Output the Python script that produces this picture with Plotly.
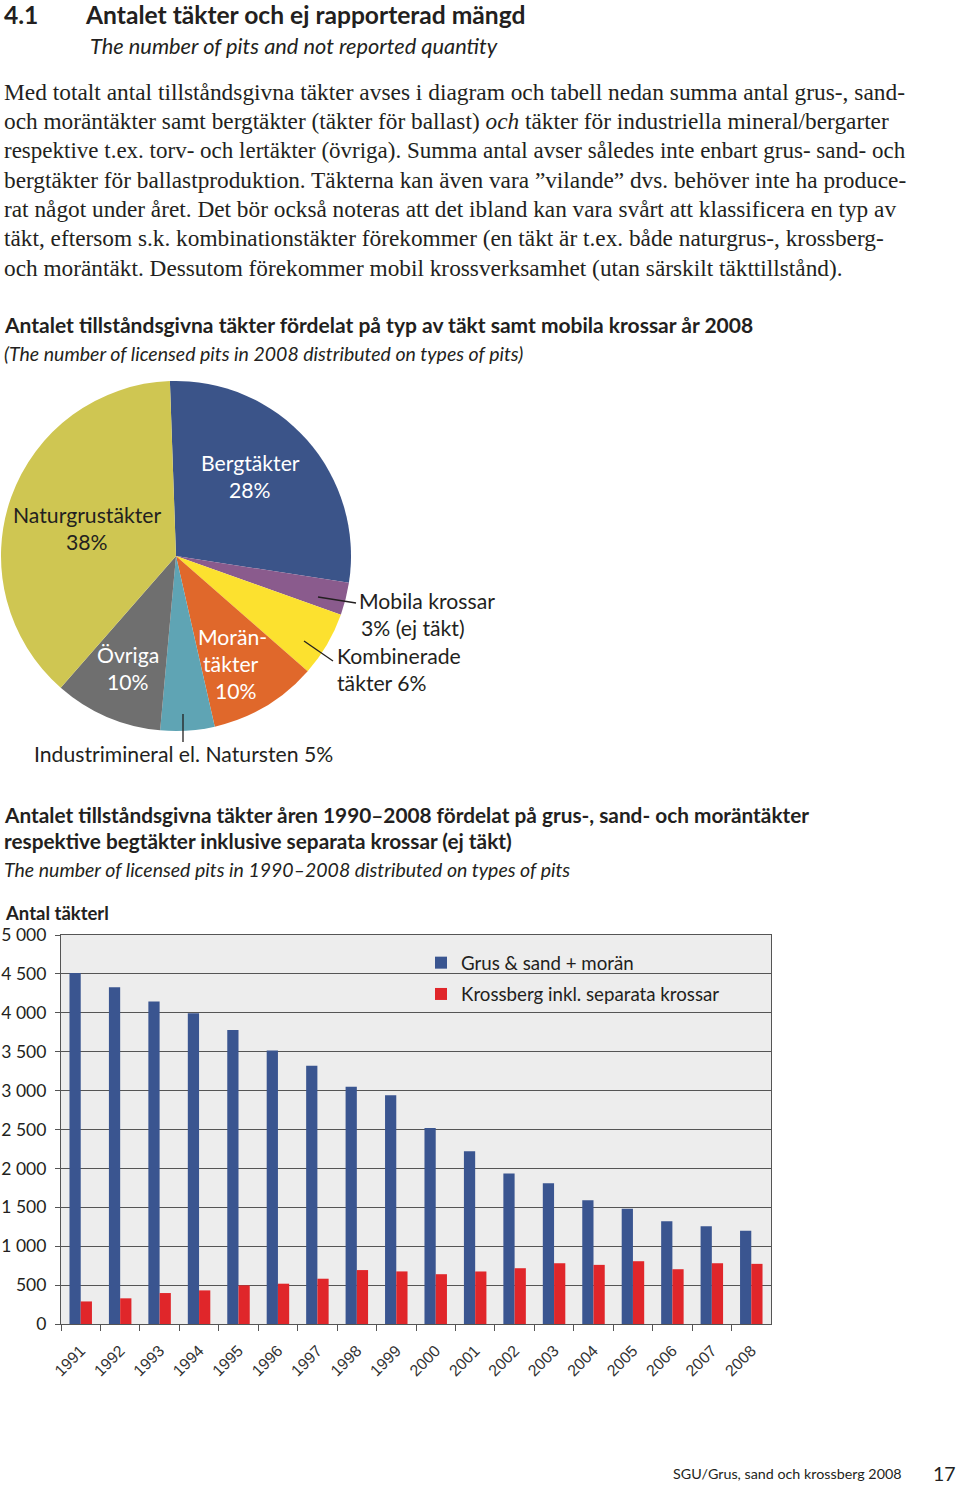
import plotly.graph_objects as go

W, H = 960, 1486

# ---------------- data ----------------
pie_labels = ["Bergtäkter", "Mobila krossar", "Kombinerade täkter", "Moräntäkter",
              "Industrimineral el. Natursten", "Övriga", "Naturgrustäkter"]
pie_values = [28, 3, 6, 10, 5, 10, 38]
pie_colors = ["#3B5489", "#8A5B8D", "#FCE12F", "#E0682B", "#5FA4B4", "#6F6F6F", "#CFC652"]

years = [str(y) for y in range(1991, 2009)]
grus = [4510, 4330, 4145, 3995, 3780, 3515, 3320, 3050, 2940, 2520,
        2220, 1935, 1810, 1590, 1480, 1320, 1255, 1200]
krossberg = [290, 330, 398, 432, 497, 518, 582, 693, 676, 640,
             675, 717, 781, 760, 807, 704, 781, 773]
y_tickvals = [0, 500, 1000, 1500, 2000, 2500, 3000, 3500, 4000, 4500, 5000]
y_ticktext = ["0", "500", "1 000", "1 500", "2 000", "2 500", "3 000",
              "3 500", "4 000", "4 500", "5 000"]


def px(x):
    return x / W


def py(y):
    return 1 - y / H


SANS = "Lato"
SERIF = "Liberation Serif"
DARK = "#231F20"

annotations = []


def txt(x, y, s, size, family=SANS, color=DARK, xanchor="left"):
    annotations.append(dict(
        x=px(x), y=py(y), xref="paper", yref="paper", text=s, showarrow=False,
        xanchor=xanchor, yanchor="middle", font=dict(size=size, family=family, color=color)))


# heading
txt(2, 14, "<b>4.1</b>", 24.6)
txt(83, 14, "<b>Antalet täkter och ej rapporterad mängd</b>", 24.6)
txt(88, 45, "<i>The number of pits and not reported quantity</i>", 21.8)

para = [
    "Med totalt antal tillståndsgivna täkter avses i diagram och tabell nedan summa antal grus-, sand-",
    "och moräntäkter samt bergtäkter (täkter för ballast) <i>och</i> täkter för industriella mineral/bergarter",
    "respektive t.ex. torv- och lertäkter (övriga). Summa antal avser således inte enbart grus- sand- och",
    "bergtäkter för ballastproduktion. Täkterna kan även vara ”vilande” dvs. behöver inte ha produce-",
    "rat något under året. Det bör också noteras att det ibland kan vara svårt att klassificera en typ av",
    "täkt, eftersom s.k. kombinationstäkter förekommer (en täkt är t.ex. både naturgrus-, krossberg-",
    "och moräntäkt. Dessutom förekommer mobil krossverksamhet (utan särskilt täkttillstånd).",
]
para_y = [92, 121, 151, 180, 209, 238, 268]
para_size = [23.4, 23.3, 23.0, 23.3, 23.3, 23.3, 23.3]
for s, yy, sz in zip(para, para_y, para_size):
    txt(2, yy, s, sz, family=SERIF)

txt(2, 324, "<b>Antalet tillståndsgivna täkter fördelat på typ av täkt samt mobila krossar år 2008</b>", 21)
txt(2, 353, "<i>(The number of licensed pits in 2008 distributed on types of pits)</i>", 19.5)

# pie labels
WHITE = "#FFFFFF"
PL = 21.2
txt(250, 463, "Bergtäkter", PL, color=WHITE, xanchor="center")
txt(250, 490, "28%", PL, color=WHITE, xanchor="center")
txt(87, 515, "Naturgrustäkter", PL, xanchor="center")
txt(87, 542, "38%", PL, xanchor="center")
txt(128, 655, "Övriga", PL, color=WHITE, xanchor="center")
txt(128, 682, "10%", PL, color=WHITE, xanchor="center")
txt(232, 637, "Morän-", PL, color=WHITE, xanchor="center")
txt(231, 664, "täkter", PL, color=WHITE, xanchor="center")
txt(236, 691, "10%", PL, color=WHITE, xanchor="center")
txt(357, 601, "Mobila krossar", PL)
txt(359, 628, "3% (ej täkt)", PL)
txt(335, 656, "Kombinerade", PL)
txt(335, 683, "täkter 6%", PL)
txt(32, 754, "Industrimineral el. Natursten 5%", PL)

# second section titles
txt(2, 814, "<b>Antalet tillståndsgivna täkter åren 1990–2008 fördelat på grus-, sand- och moräntäkter</b>", 20.8)
txt(2, 840, "<b>respektive begtäkter inklusive separata krossar (ej täkt)</b>", 20.8)
txt(2, 869, "<i>The number of licensed pits in 1990–2008 distributed on types of pits</i>", 19.5)
txt(3, 913, "<b>Antal täkterl</b>", 18.5)

# footer
txt(904, 1473, "SGU/Grus, sand och krossberg 2008", 14.3, xanchor="right")
txt(958, 1473, "17", 19.5, xanchor="right")

shapes = [
    dict(type="line", xref="paper", yref="paper", x0=px(318), y0=py(597), x1=px(356), y1=py(603),
         line=dict(color=DARK, width=1.3)),
    dict(type="line", xref="paper", yref="paper", x0=px(304), y0=py(641), x1=px(333), y1=py(661),
         line=dict(color=DARK, width=1.3)),
    dict(type="line", xref="paper", yref="paper", x0=px(183), y0=py(714), x1=px(183), y1=py(742),
         line=dict(color=DARK, width=1.3)),
]

fig = go.Figure()

fig.add_trace(go.Pie(
    values=pie_values, labels=pie_labels, sort=False, direction="clockwise", rotation=-2,
    marker=dict(colors=pie_colors, line=dict(width=0)), textinfo="none", textposition="none",
    showlegend=False, domain=dict(x=[px(1), px(351)], y=[py(731), py(381)]),
))

fig.add_trace(go.Bar(x=years, y=grus, name="Grus & sand + morän", marker_color="#3A5590",
                     marker_line_width=0, legendgroup="a"))
fig.add_trace(go.Bar(x=years, y=krossberg, name="Krossberg inkl. separata krossar",
                     marker_color="#E0262A", marker_line_width=0, legendgroup="b"))

fig.update_layout(
    width=W, height=H, margin=dict(l=0, r=0, t=0, b=0, pad=0, autoexpand=False),
    paper_bgcolor="white", plot_bgcolor="#EDEDED",
    barmode="group", bargap=0.43, bargroupgap=0,
    annotations=annotations, shapes=shapes,
    legend=dict(x=px(421), y=py(944), xanchor="left", yanchor="top",
                bgcolor="rgba(0,0,0,0)", font=dict(size=18.7, family=SANS, color=DARK),
                tracegroupgap=4, traceorder="grouped"),
    xaxis=dict(type="category", domain=[px(61), px(771)], tickson="boundaries",
               ticks="outside", ticklen=6, tickcolor="#555", showline=True, linecolor="#555",
               linewidth=1.3, mirror=True, showgrid=False, tickangle=-45,
               ticklabelstandoff=10, automargin=False,
               tickfont=dict(size=16, family="Liberation Sans", color="#333")),
    yaxis=dict(domain=[py(1324), py(935)], range=[0, 5000], tickvals=y_tickvals,
               ticktext=y_ticktext, showgrid=True, gridcolor="#555", gridwidth=1.1,
               ticks="outside", ticklen=5, tickcolor="#555", showline=True, linecolor="#555",
               linewidth=1.3, mirror=True, zeroline=False, automargin=False,
               ticklabelstandoff=5,
               tickfont=dict(size=17.5, family=SANS, color=DARK)),
)

fig.write_html("out.html", config={"displayModeBar": False},
               post_script="document.body.style.margin='0';document.body.style.overflow='hidden';")
